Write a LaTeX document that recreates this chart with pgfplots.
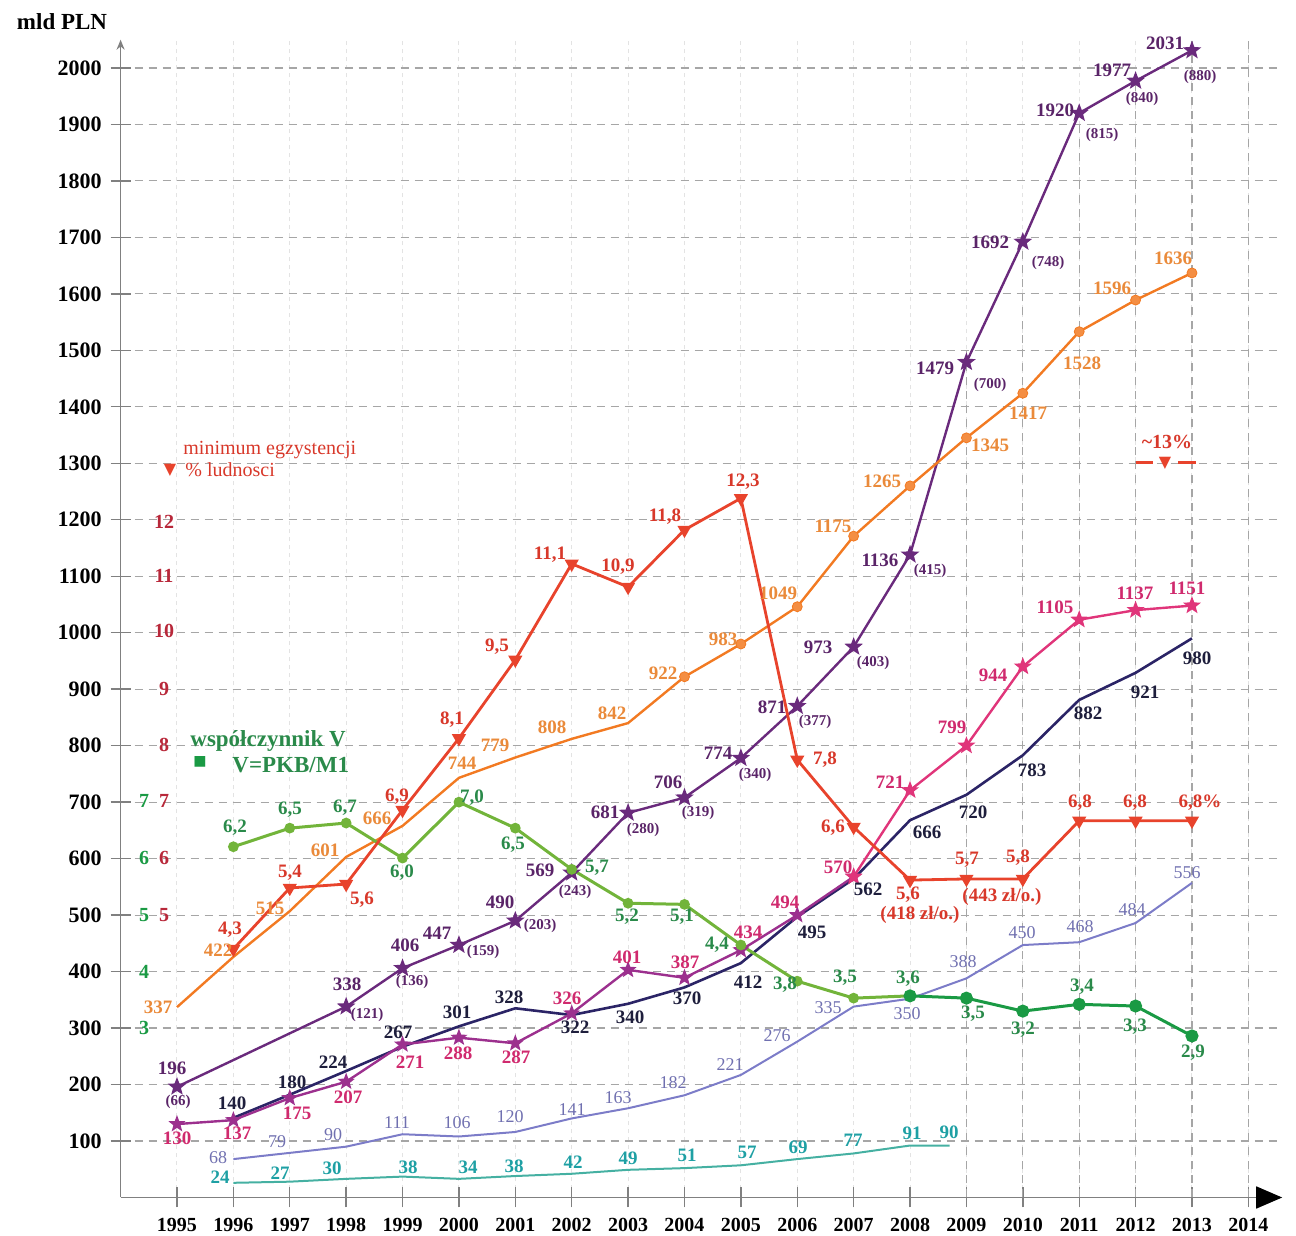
\documentclass[border=0pt]{standalone}
\usepackage{fontspec}
\setmainfont{Liberation Serif}
\newfontfamily\sym{DejaVu Sans}
\usepackage{pgfplots}
\pgfplotsset{compat=1.18}
\usetikzlibrary{arrows.meta}

\definecolor{cpur}{HTML}{6A2A7C}
\definecolor{cpurt}{HTML}{5A2468}
\definecolor{cora}{HTML}{F27A22}
\definecolor{corat}{HTML}{EA8A3A}
\definecolor{cred}{HTML}{E8432C}
\definecolor{credt}{HTML}{D8382A}
\definecolor{cdred}{HTML}{B8283A}
\definecolor{cnav}{HTML}{2B2466}
\definecolor{cnavt}{HTML}{1E1E3C}
\definecolor{cmag}{HTML}{9C308E}
\definecolor{cpink}{HTML}{E0357A}
\definecolor{cmagt}{HTML}{D02A6E}
\definecolor{clav}{HTML}{7C7CC8}
\definecolor{clavt}{HTML}{7070B0}
\definecolor{cteal}{HTML}{45B0A2}
\definecolor{ctealt}{HTML}{1EA0A4}
\definecolor{cgrl}{HTML}{72B43A}
\definecolor{cgrd}{HTML}{1A9A44}
\definecolor{cgrt}{HTML}{2A8A4A}

% filled five-point star
\pgfdeclareplotmark{fstar}{%
  \pgfpathmoveto{\pgfpointpolar{90}{\pgfplotmarksize}}%
  \pgfpathlineto{\pgfpointpolar{126}{0.42\pgfplotmarksize}}%
  \pgfpathlineto{\pgfpointpolar{162}{\pgfplotmarksize}}%
  \pgfpathlineto{\pgfpointpolar{198}{0.42\pgfplotmarksize}}%
  \pgfpathlineto{\pgfpointpolar{234}{\pgfplotmarksize}}%
  \pgfpathlineto{\pgfpointpolar{270}{0.42\pgfplotmarksize}}%
  \pgfpathlineto{\pgfpointpolar{306}{\pgfplotmarksize}}%
  \pgfpathlineto{\pgfpointpolar{342}{0.42\pgfplotmarksize}}%
  \pgfpathlineto{\pgfpointpolar{18}{\pgfplotmarksize}}%
  \pgfpathlineto{\pgfpointpolar{54}{0.42\pgfplotmarksize}}%
  \pgfpathclose
  \pgfusepathqfillstroke}

\tikzset{
  L/.style={font=\bfseries\fontsize{9.5}{10}\selectfont, inner sep=0pt},
  S/.style={font=\bfseries\fontsize{7.5}{8}\selectfont, inner sep=0pt},
  R/.style={font=\fontsize{9}{10}\selectfont, inner sep=0pt},
}
\newcommand\lb[4]{\node[L,text=#1] at (#2,#3) {#4};}
\newcommand\ls[4]{\node[S,text=#1] at (#2,#3) {#4};}
\newcommand\lr[4]{\node[R,text=#1] at (#2,#3) {#4};}

\begin{document}
\begin{tikzpicture}
\begin{axis}[
  scale only axis, width=580.8pt, height=578.9pt,
  xmin=1994, xmax=2014.6, ymin=0, ymax=2050,
  axis x line*=bottom, axis y line*=left,
  x axis line style={draw=gray, line width=0.8pt, -{Triangle[length=13pt,width=11pt,black]}},
  y axis line style={draw=gray, line width=0.8pt, -{Stealth[length=5pt,width=4pt]}},
  xtick={1995,1996,...,2014}, ytick={100,200,...,2000},
  tick align=center, major tick length=10pt,
  tick style={gray, line width=0.7pt},
  /pgf/number format/assume math mode=true,
  /pgf/number format/1000 sep={},
  x tick label style={font=\bfseries\fontsize{10}{12}\selectfont, yshift=-2pt},
  y tick label style={font=\bfseries\fontsize{11}{12}\selectfont, xshift=-1pt},
  xmajorgrids, ymajorgrids,
  major y grid style={gray!70, line width=0.6pt, dash pattern=on 4pt off 3pt},
  major x grid style={gray!22, line width=0.5pt, dash pattern=on 2pt off 2pt},
  clip=false,
]
% stronger vertical grid on the right
\draw[gray!70, line width=0.6pt, dash pattern=on 4pt off 3pt] (axis cs:2009,0) -- (axis cs:2009,1500);
\draw[gray!70, line width=0.6pt, dash pattern=on 4pt off 3pt] (axis cs:2010,0) -- (axis cs:2010,1680);
\draw[gray!70, line width=0.6pt, dash pattern=on 4pt off 3pt] (axis cs:2011,0) -- (axis cs:2011,1900);
\draw[gray!70, line width=0.6pt, dash pattern=on 4pt off 3pt] (axis cs:2012,0) -- (axis cs:2012,1990);
\draw[gray!70, line width=0.6pt, dash pattern=on 4pt off 3pt] (axis cs:2013,0) -- (axis cs:2013,2050);
\draw[gray!70, line width=0.6pt, dash pattern=on 4pt off 3pt] (axis cs:2014,0) -- (axis cs:2014,2050);

% teal
\addplot[cteal, line width=1pt, mark=none] coordinates {
 (1996,26)(1997,28)(1998,33)(1999,37)(2000,33)(2001,38)(2002,42)(2003,49)
 (2004,52)(2005,57)(2006,68)(2007,78)(2008,92)(2008.7,92)};
% lavender
\addplot[clav, line width=1pt, mark=none] coordinates {
 (1996,68)(1997,79)(1998,90)(1999,112)(2000,108)(2001,116)(2002,140)(2003,158)
 (2004,181)(2005,217)(2006,276)(2007,338)(2008,352)(2009,388)(2010,447)
 (2011,452)(2012,486)(2013,557)};
% navy
\addplot[cnav, line width=1.3pt, mark=none] coordinates {
 (1996,141)(1997,182)(1998,224)(1999,267)(2000,303)(2001,335)(2002,323)(2003,343)
 (2004,372)(2005,415)(2006,497)(2007,564)(2008,668)(2009,713)(2010,783)
 (2011,881)(2012,929)(2013,990)};
% magenta / pink
\addplot[cmag, line width=1.2pt, mark=fstar, mark size=2.8pt] coordinates {
 (1995,130)(1996,137)(1997,176)(1998,205)(1999,271)(2000,283)(2001,273)(2002,326)
 (2003,403)(2004,389)(2005,438)(2006,500)(2007,568)};
\addplot[cpink, line width=1.2pt, mark=fstar, mark size=3pt] coordinates {
 (2007,568)(2008,721)(2009,800)(2010,940)(2011,1023)(2012,1040)(2013,1048)};
% purple
\addplot[cpur, line width=1.2pt, mark=fstar, mark size=3.2pt] coordinates {
 (1995,196)(1998,338)(1999,406)(2000,447)(2001,490)(2002,575)(2003,681)(2004,708)
 (2005,778)(2006,870)(2007,975)(2008,1138)(2009,1479)(2010,1692)(2011,1920)
 (2012,1977)(2013,2031)};
% orange
\addplot[cora, line width=1.2pt, mark=none] coordinates {
 (1995,337)(1996,426)(1997,507)(1998,603)(1999,658)(2000,743)(2001,779)(2002,812)
 (2003,840)(2004,922)(2005,980)(2006,1046)(2007,1171)(2008,1260)(2009,1345)
 (2010,1424)(2011,1533)(2012,1589)(2013,1637)};
\addplot[only marks, mark=*, mark size=2.5pt, color=cora, fill=cora!85] coordinates {
 (2004,922)(2005,980)(2006,1046)(2007,1171)(2008,1260)(2009,1345)
 (2010,1424)(2011,1533)(2012,1589)(2013,1637)};
% green V (x100)
\addplot[cgrl, line width=1.5pt, mark=*, mark size=1.9pt] coordinates {
 (1996,621)(1997,654)(1998,663)(1999,601)(2000,700)(2001,654)(2002,581)(2003,521)
 (2004,519)(2005,447)(2006,383)(2007,353)(2008,357)};
\addplot[cgrd, line width=1.5pt, mark=*, mark size=2.5pt] coordinates {
 (2008,357)(2009,353)(2010,330)(2011,342)(2012,339)(2013,286)};
% red (% x100)
\addplot[cred, line width=1.4pt, mark=triangle*, mark size=2.7pt, mark options={rotate=180}] coordinates {
 (1996,440)(1997,548)(1998,555)(1999,686)(2000,813)(2001,952)(2002,1122)(2003,1081)
 (2004,1182)(2005,1238)(2006,775)(2007,656)(2008,562)(2009,564)(2010,564)
 (2011,667)(2012,667)(2013,667)};
\end{axis}

\begin{scope}[x=0.5pt, y=-0.5pt, shift={(-120.6,-1197.5)}]
\node[font=\bfseries\fontsize{11.5}{12}\selectfont, inner sep=0pt] at (62,22) {mld PLN};

% secondary scales
\foreach \v/\yy in {12/522,11/576,10/631,9/689,8/745,7/801,6/858,5/915}
  \node[font=\bfseries\fontsize{10}{12}\selectfont, text=cdred, inner sep=0pt] at (164,\yy) {\v};
\foreach \v/\yy in {7/801,6/858,5/915,4/972,3/1028}
  \node[font=\bfseries\fontsize{10}{12}\selectfont, text=cgrd, inner sep=0pt] at (144,\yy) {\v};

% legends
\node[R, text=credt, anchor=west, font=\fontsize{10}{11}\selectfont] at (183,450) {minimum egzystencji};
\node[R, text=credt, anchor=west, font=\fontsize{10}{11}\selectfont] at (185,470) {\% ludnosci};
\node[text=cred, inner sep=0pt, font=\sym\fontsize{8}{9}\selectfont] at (170,470) {▼};
\node[text=cgrt, anchor=west, inner sep=0pt, font=\bfseries\fontsize{11.5}{12}\selectfont] at (190,741) {współczynnik V};
\node[text=cgrt, anchor=west, inner sep=0pt, font=\bfseries\fontsize{11.5}{12}\selectfont] at (232,765) {V=PKB/M1};
\node[text=cgrd, inner sep=0pt, font=\sym\fontsize{7}{8}\selectfont] at (200,762) {■};

% ~13%
\node[text=credt, inner sep=0pt, font=\bfseries\fontsize{10}{11}\selectfont] at (1167,442) {\textasciitilde13\%};
\draw[cred, line width=1.5pt] (1136,463) -- (1153,463);
\draw[cred, line width=1.5pt] (1178,463) -- (1196,463);
\node[text=cred, inner sep=0pt, font=\sym\fontsize{8}{9}\selectfont] at (1165,463) {▼};

% purple labels
\lb{cpurt}{172}{1068}{196} \ls{cpurt}{178}{1102}{(66)}
\lb{cpurt}{347}{984}{338} \ls{cpurt}{367}{1015}{(121)}
\lb{cpurt}{405}{945}{406} \ls{cpurt}{412}{982}{(136)}
\lb{cpurt}{437}{933}{447} \ls{cpurt}{483}{952}{(159)}
\lb{cpurt}{500}{902}{490} \ls{cpurt}{540}{926}{(203)}
\lb{cpurt}{540}{870}{569} \ls{cpurt}{575}{892}{(243)}
\lb{cpurt}{605}{812}{681} \ls{cpurt}{643}{830}{(280)}
\lb{cpurt}{668}{782}{706} \ls{cpurt}{698}{813}{(319)}
\lb{cpurt}{718}{753}{774} \ls{cpurt}{755}{775}{(340)}
\lb{cpurt}{772}{707}{871} \ls{cpurt}{815}{722}{(377)}
\lb{cpurt}{818}{647}{973} \ls{cpurt}{873}{663}{(403)}
\lb{cpurt}{880}{560}{1136} \ls{cpurt}{930}{571}{(415)}
\lb{cpurt}{935}{368}{1479} \ls{cpurt}{990}{385}{(700)}
\lb{cpurt}{990}{242}{1692} \ls{cpurt}{1048}{263}{(748)}
\lb{cpurt}{1055}{110}{1920} \ls{cpurt}{1102}{135}{(815)}
\lb{cpurt}{1112}{70}{1977} \ls{cpurt}{1142}{99}{(840)}
\lb{cpurt}{1165}{43}{2031} \ls{cpurt}{1200}{77}{(880)}

% orange labels
\lb{corat}{158}{1007}{337} \lb{corat}{218}{950}{422} \lb{corat}{270}{908}{515}
\lb{corat}{325}{850}{601} \lb{corat}{377}{818}{666} \lb{corat}{462}{763}{744}
\lb{corat}{495}{745}{779} \lb{corat}{552}{727}{808} \lb{corat}{612}{713}{842}
\lb{corat}{663}{673}{922} \lb{corat}{723}{639}{983} \lb{corat}{778}{593}{1049}
\lb{corat}{833}{526}{1175} \lb{corat}{882}{481}{1265} \lb{corat}{990}{445}{1345}
\lb{corat}{1028}{413}{1417} \lb{corat}{1082}{363}{1528} \lb{corat}{1112}{288}{1596}
\lb{corat}{1173}{258}{1636}

% red labels
\lb{credt}{230}{930}{4,3} \lb{credt}{290}{873}{5,4} \lb{credt}{362}{900}{5,6}
\lb{credt}{397}{797}{6,9} \lb{credt}{452}{720}{8,1} \lb{credt}{497}{647}{9,5}
\lb{credt}{550}{555}{11,1} \lb{credt}{618}{567}{10,9} \lb{credt}{665}{517}{11,8}
\lb{credt}{743}{482}{12,3} \lb{credt}{825}{760}{7,8} \lb{credt}{833}{828}{6,6}
\lb{credt}{908}{895}{5,6} \lb{credt}{920}{915}{(418 zł/o.)}
\lb{credt}{967}{860}{5,7} \lb{credt}{1002}{897}{(443 zł/o.)}
\lb{credt}{1018}{858}{5,8} \lb{credt}{1080}{803}{6,8} \lb{credt}{1135}{803}{6,8}
\lb{credt}{1200}{803}{6,8\%}

% green labels
\lb{cgrt}{235}{828}{6,2} \lb{cgrt}{290}{810}{6,5} \lb{cgrt}{345}{808}{6,7}
\lb{cgrt}{402}{873}{6,0} \lb{cgrt}{472}{798}{7,0} \lb{cgrt}{513}{845}{6,5}
\lb{cgrt}{597}{868}{5,7} \lb{cgrt}{627}{917}{5,2} \lb{cgrt}{682}{917}{5,1}
\lb{cgrt}{717}{945}{4,4} \lb{cgrt}{785}{985}{3,8} \lb{cgrt}{845}{978}{3,5}
\lb{cgrt}{908}{979}{3,6} \lb{cgrt}{973}{1014}{3,5} \lb{cgrt}{1023}{1030}{3,2}
\lb{cgrt}{1082}{987}{3,4} \lb{cgrt}{1135}{1027}{3,3} \lb{cgrt}{1193}{1053}{2,9}

% navy labels
\lb{cnavt}{232}{1103}{140} \lb{cnavt}{292}{1082}{180} \lb{cnavt}{333}{1062}{224}
\lb{cnavt}{398}{1032}{267} \lb{cnavt}{457}{1012}{301} \lb{cnavt}{509}{997}{328}
\lb{cnavt}{575}{1027}{322} \lb{cnavt}{630}{1017}{340} \lb{cnavt}{687}{998}{370}
\lb{cnavt}{748}{982}{412} \lb{cnavt}{812}{932}{495} \lb{cnavt}{868}{889}{562}
\lb{cnavt}{927}{832}{666} \lb{cnavt}{973}{812}{720} \lb{cnavt}{1032}{770}{783}
\lb{cnavt}{1088}{713}{882} \lb{cnavt}{1145}{692}{921} \lb{cnavt}{1197}{658}{980}

% magenta labels
\lb{cmagt}{177}{1138}{130} \lb{cmagt}{237}{1133}{137} \lb{cmagt}{297}{1113}{175}
\lb{cmagt}{348}{1097}{207} \lb{cmagt}{410}{1062}{271} \lb{cmagt}{458}{1053}{288}
\lb{cmagt}{516}{1057}{287} \lb{cmagt}{567}{998}{326} \lb{cmagt}{627}{957}{401}
\lb{cmagt}{685}{962}{387} \lb{cmagt}{748}{932}{434} \lb{cmagt}{785}{902}{494}
\lb{cmagt}{838}{867}{570} \lb{cmagt}{890}{782}{721} \lb{cmagt}{952}{727}{799}
\lb{cmagt}{993}{675}{944} \lb{cmagt}{1055}{607}{1105} \lb{cmagt}{1135}{593}{1137}
\lb{cmagt}{1187}{588}{1151}

% lavender labels
\lr{clavt}{218}{1158}{68} \lr{clavt}{277}{1142}{79} \lr{clavt}{333}{1135}{90}
\lr{clavt}{397}{1123}{111} \lr{clavt}{457}{1123}{106} \lr{clavt}{510}{1117}{120}
\lr{clavt}{572}{1110}{141} \lr{clavt}{618}{1098}{163} \lr{clavt}{673}{1083}{182}
\lr{clavt}{730}{1065}{221} \lr{clavt}{777}{1036}{276} \lr{clavt}{828}{1008}{335}
\lr{clavt}{907}{1014}{350} \lr{clavt}{963}{962}{388} \lr{clavt}{1022}{933}{450}
\lr{clavt}{1080}{927}{468} \lr{clavt}{1132}{910}{484} \lr{clavt}{1187}{873}{556}

% teal labels
\lb{ctealt}{220}{1177}{24} \lb{ctealt}{280}{1173}{27} \lb{ctealt}{332}{1168}{30}
\lb{ctealt}{408}{1167}{38} \lb{ctealt}{468}{1167}{34} \lb{ctealt}{514}{1166}{38}
\lb{ctealt}{573}{1162}{42} \lb{ctealt}{628}{1158}{49} \lb{ctealt}{687}{1155}{51}
\lb{ctealt}{747}{1152}{57} \lb{ctealt}{798}{1147}{69} \lb{ctealt}{853}{1140}{77}
\lb{ctealt}{912}{1133}{91} \lb{ctealt}{949}{1132}{90}

\pgfresetboundingbox
\path (0,0) rectangle (1296,1236);
\end{scope}
\end{tikzpicture}
\end{document}
